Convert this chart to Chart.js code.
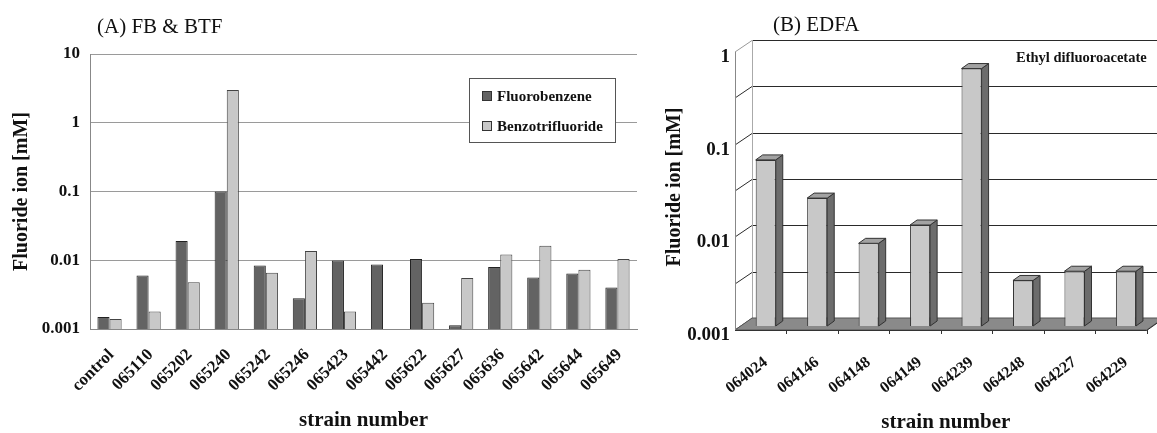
<!DOCTYPE html>
<html><head><meta charset="utf-8">
<script src="https://cdn.jsdelivr.net/npm/chart.js@4.4.1/dist/chart.umd.min.js"></script>
<style>
html,body{margin:0;padding:0;background:#fff;}
#wrap{position:relative;width:1157px;height:433px;overflow:hidden;background:#fff;}
#boxA{position:absolute;left:0;top:0;width:650px;height:433px;}
#boxB{position:absolute;left:640px;top:0;width:517px;height:433px;}
</style></head><body>
<div id="wrap"><div id="boxA"><canvas id="cA"></canvas></div><div id="boxB"><canvas id="cB"></canvas></div></div>
<script>
const SERIF = '"Liberation Serif","Times New Roman",serif';

// ---- Panel A data ----
const titleA = '(A) FB & BTF';
const categoriesA = ['control','065110','065202','065240','065242','065246','065423','065442','065622','065627','065636','065642','065644','065649'];
const fluorobenzene    = [0.0015, 0.006, 0.019, 0.1, 0.0084, 0.0028, 0.0099, 0.0087, 0.0104, 0.00113, 0.008, 0.0056, 0.0064, 0.004];
const benzotrifluoride = [0.0014, 0.0018, 0.0048, 3.0, 0.0066, 0.0136, 0.0018, null, 0.0024, 0.0055, 0.0121, 0.0163, 0.0073, 0.0104];
const seriesNamesA = ['Fluorobenzene','Benzotrifluoride'];
const tickValuesA = [0.001, 0.01, 0.1, 1, 10];
const tickLabelsA = ['0.001','0.01','0.1','1','10'];

// ---- Panel B data ----
const titleB = '(B) EDFA';
const categoriesB = ['064024','064146','064148','064149','064239','064248','064227','064229'];
const edfa = [0.062, 0.024, 0.0078, 0.0123, 0.60, 0.0031, 0.0039, 0.0039];
const seriesNameB = 'Ethyl difluoroacetate';
const tickValuesB = [0.001, 0.01, 0.1, 1];
const tickLabelsB = ['0.001','0.01','0.1','1'];

const yTitle = 'Fluoride ion [mM]';
const xTitle = 'strain number';

Chart.defaults.font.family = SERIF;
Chart.defaults.color = '#111';

function panelTitle(text, dx, y) {
  return { id: 'panelTitle', afterDraw(chart) {
    const c = chart.ctx; c.save();
    c.font = '21px ' + SERIF; c.fillStyle = '#111'; c.textBaseline = 'middle'; c.textAlign = 'left';
    c.fillText(text, chart.chartArea.left + dx, y); c.restore();
  }};
}

const legendA = { id: 'legendA', afterDatasetsDraw(chart) {
  const c = chart.ctx, a = chart.chartArea;
  const bx = a.left + 379, by = 78, w = 146, h = 64;
  c.save();
  c.fillStyle = '#fff'; c.fillRect(bx, by, w, h);
  c.strokeStyle = '#555'; c.lineWidth = 1; c.strokeRect(bx + 0.5, by + 0.5, w, h);
  chart.data.datasets.forEach((ds, i) => {
    const cy = by + 18 + i * 30;
    c.fillStyle = ds.backgroundColor; c.fillRect(bx + 13, cy - 5, 10, 10);
    c.strokeStyle = '#333'; c.strokeRect(bx + 13.5, cy - 4.5, 9, 9);
    c.fillStyle = '#111'; c.font = 'bold 15px ' + SERIF; c.textBaseline = 'middle'; c.textAlign = 'left';
    c.fillText(ds.label, bx + 28, cy + 1);
  });
  c.restore();
}};

new Chart(document.getElementById('cA'), {
  type: 'bar',
  data: {
    labels: categoriesA,
    datasets: [
      { label: seriesNamesA[0], data: fluorobenzene, backgroundColor: '#636363', borderColor: '#222', borderWidth: 1, categoryPercentage: 0.62, barPercentage: 1 },
      { label: seriesNamesA[1], data: benzotrifluoride, backgroundColor: '#c8c8c8', borderColor: '#444', borderWidth: 1, categoryPercentage: 0.62, barPercentage: 1 }
    ]
  },
  options: {
    responsive: true, maintainAspectRatio: false, animation: false, devicePixelRatio: 1,
    layout: { padding: { top: 54, right: 13, left: 0, bottom: 0 } },
    plugins: { legend: { display: false }, tooltip: { enabled: false } },
    scales: {
      x: {
        grid: { display: false },
        border: { display: true, color: '#888' },
        ticks: { autoSkip: false, minRotation: 45, maxRotation: 45, padding: 8, labelOffset: 2, font: { size: 17, weight: 'bold' }, color: '#111' },
        title: { display: true, text: xTitle, font: { size: 21, weight: 'bold', lineHeight: 1 }, padding: { top: 0, bottom: 2 }, color: '#111' },
        afterFit: s => { s.height = 104; }
      },
      y: {
        type: 'logarithmic', min: 0.001, max: 10,
        afterBuildTicks: s => { s.ticks = tickValuesA.map(v => ({ value: v })); },
        ticks: { padding: 10, font: { size: 17, weight: 'bold' }, color: '#111',
                 callback: v => tickLabelsA[tickValuesA.indexOf(v)] },
        grid: { color: '#9a9a9a', drawTicks: false },
        border: { display: true, color: '#888' },
        title: { display: true, text: yTitle, font: { size: 20, weight: 'bold' }, padding: { top: 10, bottom: 0 }, color: '#111' },
        afterFit: s => { s.width = 90; }
      }
    }
  },
  plugins: [panelTitle(titleA, 7, 27), legendA]
});

// ---- Panel B: pseudo-3D ----
const FRONT = [-5, 4], BACK = [12, -8], DEPTH = [7, -5];
const box3d = {
  id: 'box3d',
  beforeDatasetsDraw(chart) {
    const c = chart.ctx, a = chart.chartArea, ys = chart.scales.y;
    c.save();
    c.fillStyle = '#fff';
    c.fillRect(a.left + BACK[0], a.top + BACK[1], a.right - a.left, a.bottom - a.top);
    const levels = [];
    tickValuesB.forEach((v, i) => { levels.push(v); if (i < tickValuesB.length - 1) levels.push(Math.sqrt(v * tickValuesB[i + 1])); });
    c.lineWidth = 1;
    levels.forEach(v => {
      const py = Math.round(ys.getPixelForValue(v));
      c.strokeStyle = '#2a2a2a';
      c.beginPath(); c.moveTo(a.left + BACK[0], py + BACK[1] + 0.5); c.lineTo(a.right + BACK[0] + 20, py + BACK[1] + 0.5); c.stroke();
      c.strokeStyle = v === tickValuesB[tickValuesB.length - 1] ? '#999' : '#2a2a2a';
      c.beginPath(); c.moveTo(a.left + FRONT[0], py + FRONT[1]); c.lineTo(a.left + BACK[0], py + BACK[1] + 0.5); c.stroke();
    });
    c.strokeStyle = '#aaa';
    c.beginPath(); c.moveTo(a.left + BACK[0] + 0.5, a.top + BACK[1]); c.lineTo(a.left + BACK[0] + 0.5, a.bottom + BACK[1]); c.stroke();
    c.fillStyle = '#8a8a8a';
    c.beginPath();
    c.moveTo(a.left + FRONT[0], a.bottom + FRONT[1]);
    c.lineTo(a.right + FRONT[0], a.bottom + FRONT[1]);
    c.lineTo(a.right + BACK[0], a.bottom + BACK[1]);
    c.lineTo(a.left + BACK[0], a.bottom + BACK[1]);
    c.closePath(); c.fill();
    c.strokeStyle = '#555'; c.stroke();
    c.strokeStyle = '#333';
    c.beginPath(); c.moveTo(a.left + FRONT[0], a.bottom + FRONT[1] + 0.5); c.lineTo(a.right + FRONT[0], a.bottom + FRONT[1] + 0.5);
    c.lineTo(a.right + BACK[0], a.bottom + BACK[1] + 0.5); c.stroke();
    const n = chart.data.labels.length, cw = (a.right - a.left) / n;
    for (let i = 1; i <= n; i++) {
      const tx = Math.round(a.left + FRONT[0] + i * cw) + 0.5;
      c.beginPath(); c.moveTo(tx, a.bottom + FRONT[1]); c.lineTo(tx, a.bottom + FRONT[1] + 4); c.stroke();
    }
    c.strokeStyle = '#888';
    c.beginPath(); c.moveTo(a.left + FRONT[0] + 0.5, a.top + FRONT[1]); c.lineTo(a.left + FRONT[0] + 0.5, a.bottom + FRONT[1]); c.stroke();
    c.restore();
  },
  afterDatasetsDraw(chart) {
    const c = chart.ctx;
    const meta = chart.getDatasetMeta(0);
    c.save(); c.lineWidth = 1; c.strokeStyle = '#333';
    meta.data.forEach(el => {
      const p = el.getProps(['x', 'y', 'base', 'width'], true);
      const l = p.x - p.width / 2, r = p.x + p.width / 2;
      c.fillStyle = '#6c6c6c';
      c.beginPath(); c.moveTo(r, p.y); c.lineTo(r + DEPTH[0], p.y + DEPTH[1]); c.lineTo(r + DEPTH[0], p.base + DEPTH[1]); c.lineTo(r, p.base); c.closePath(); c.fill(); c.stroke();
      c.fillStyle = '#a2a2a2';
      c.beginPath(); c.moveTo(l, p.y); c.lineTo(l + DEPTH[0], p.y + DEPTH[1]); c.lineTo(r + DEPTH[0], p.y + DEPTH[1]); c.lineTo(r, p.y); c.closePath(); c.fill(); c.stroke();
    });
    c.restore();
  },
  afterDraw(chart) {
    const c = chart.ctx, a = chart.chartArea;
    c.save(); c.font = 'bold 14.5px ' + SERIF; c.fillStyle = '#111'; c.textAlign = 'right'; c.textBaseline = 'middle';
    c.fillText(chart.data.datasets[0].label, a.right - 5, a.top + 10);
    c.restore();
  }
};

new Chart(document.getElementById('cB'), {
  type: 'bar',
  data: {
    labels: categoriesB,
    datasets: [{ label: seriesNameB, data: edfa, backgroundColor: '#c8c8c8', borderColor: '#333', borderWidth: 1, categoryPercentage: 0.39, barPercentage: 1 }]
  },
  options: {
    responsive: true, maintainAspectRatio: false, animation: false, devicePixelRatio: 1,
    layout: { padding: { top: 48, right: 4, left: 0, bottom: 0 } },
    plugins: { legend: { display: false }, tooltip: { enabled: false } },
    scales: {
      x: {
        grid: { display: false }, border: { display: false },
        ticks: { autoSkip: false, minRotation: 38, maxRotation: 38, padding: 19, font: { size: 16, weight: 'bold' }, color: '#111' },
        title: { display: true, text: xTitle, font: { size: 21, weight: 'bold', lineHeight: 1 }, padding: { top: 0, bottom: 0 }, color: '#111' },
        afterFit: s => { s.height = 107; }
      },
      y: {
        type: 'logarithmic', min: 0.001, max: 1,
        afterBuildTicks: s => { s.ticks = tickValuesB.map(v => ({ value: v })); },
        ticks: { padding: 10, labelOffset: 9, font: { size: 19, weight: 'bold' }, color: '#111',
                 callback: v => tickLabelsB[tickValuesB.indexOf(v)] },
        grid: { display: false, drawTicks: false }, border: { display: false },
        title: { display: true, text: yTitle, font: { size: 20, weight: 'bold' }, padding: { top: 23, bottom: 0 }, color: '#111' },
        afterFit: s => { s.width = 100; }
      }
    }
  },
  plugins: [panelTitle(titleB, 33, 25), box3d]
});
</script>
</body></html>
